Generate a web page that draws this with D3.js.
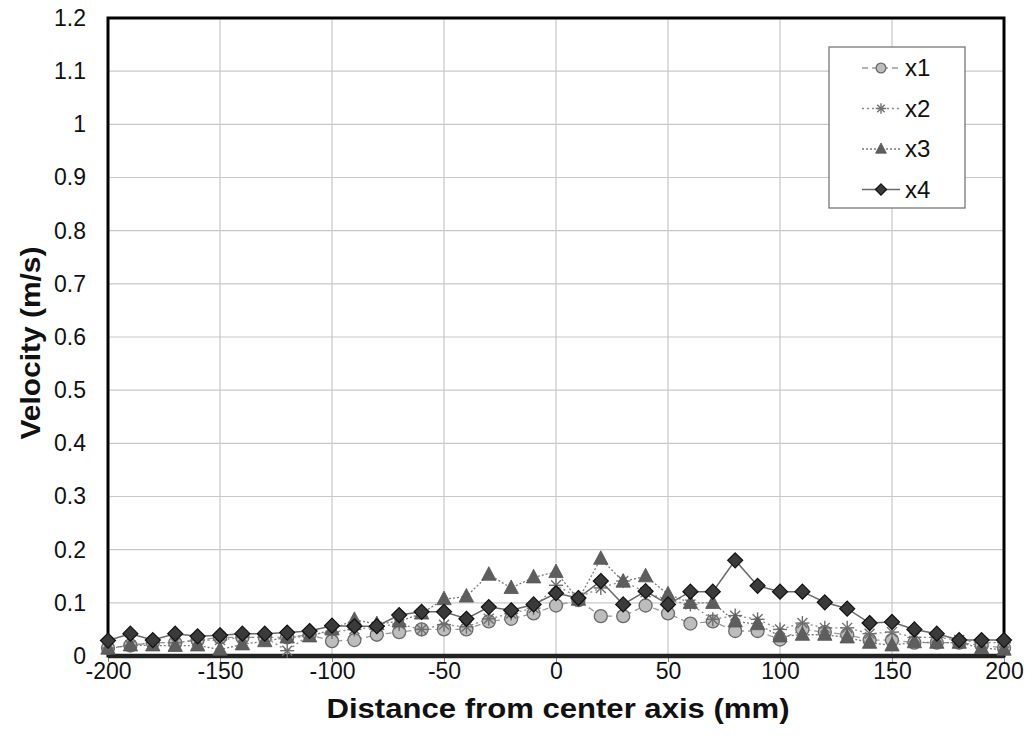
<!DOCTYPE html>
<html>
<head>
<meta charset="utf-8">
<script src="https://cdn.jsdelivr.net/npm/d3@7/dist/d3.min.js"></script>
<style>
  body { margin: 0; background: #fff; }
  text { font-family: "Liberation Sans", Arial, sans-serif; }
</style>
</head>
<body>
<svg id="chart" width="1032" height="748"></svg>
<script>
// Data
const distances = d3.range(-200, 201, 10);
const x1 = [0.015,0.02,0.025,0.025,0.03,0.035,0.035,0.035,0.035,0.04,0.028,0.03,0.04,0.045,0.05,0.05,0.05,0.065,0.07,0.08,0.095,0.105,0.075,0.075,0.095,0.08,0.061,0.065,0.047,0.047,0.031,0.05,0.045,0.04,0.03,0.03,0.025,0.025,0.025,0.02,0.015];
const x2 = [0.015,0.02,0.025,0.025,0.03,0.03,0.035,0.035,0.01,0.04,0.045,0.05,0.055,0.06,0.05,0.059,0.055,0.07,0.08,0.09,0.133,0.11,0.128,0.141,0.12,0.105,0.097,0.069,0.076,0.069,0.05,0.062,0.053,0.053,0.042,0.045,0.035,0.035,0.03,0.025,0.025];
const x3 = [0.014,0.02,0.02,0.019,0.02,0.012,0.022,0.028,0.035,0.037,0.05,0.068,0.06,0.065,0.08,0.107,0.112,0.153,0.128,0.148,0.158,0.106,0.183,0.14,0.15,0.116,0.1,0.1,0.065,0.06,0.037,0.04,0.04,0.035,0.025,0.02,0.026,0.025,0.025,0.015,0.012];
const x4 = [0.029,0.042,0.03,0.042,0.037,0.039,0.042,0.042,0.044,0.047,0.057,0.056,0.056,0.077,0.083,0.083,0.07,0.092,0.086,0.097,0.118,0.109,0.141,0.097,0.122,0.097,0.121,0.121,0.18,0.132,0.121,0.121,0.101,0.089,0.062,0.064,0.05,0.042,0.03,0.03,0.03];
const seriesNames = ["x1","x2","x3","x4"];
const xTicks = d3.range(-200, 201, 50);
const yTicks = d3.range(0, 13).map(i => +(i / 10).toFixed(1));

const svg = d3.select("#chart");
const L = 108, R = 1004, T = 18, B = 656;
const x = d3.scaleLinear().domain([-200, 200]).range([L, R]);
const y = d3.scaleLinear().domain([0, 1.2]).range([B, T]);

// gridlines
svg.append("g").selectAll("line.h").data(yTicks.slice(1)).join("line")
  .attr("x1", L).attr("x2", R).attr("y1", d => y(d)).attr("y2", d => y(d))
  .attr("stroke", "#c8c8c8").attr("stroke-width", 1.2);
svg.append("g").selectAll("line.v").data(xTicks.slice(1, -1)).join("line")
  .attr("x1", d => x(d)).attr("x2", d => x(d)).attr("y1", T).attr("y2", B)
  .attr("stroke", "#c8c8c8").attr("stroke-width", 1.2);

// axes
const xAxis = d3.axisBottom(x).tickValues(xTicks).tickSize(6).tickPadding(1).tickFormat(d3.format("d"));
const gx = svg.append("g").attr("transform", `translate(0,${B})`).call(xAxis);
gx.select(".domain").remove();
gx.selectAll("line").attr("stroke", "#888");
gx.selectAll("text").attr("font-size", 23).attr("fill", "#111").text(d => d < 0 ? "-" + Math.abs(d) : d);

const yAxis = d3.axisLeft(y).tickValues(yTicks).tickSize(0).tickPadding(22).tickFormat(d => d === 0 ? "0" : d3.format("")(d));
const gy = svg.append("g").attr("transform", `translate(${L},0)`).call(yAxis);
gy.select(".domain").remove();
gy.selectAll("text").attr("font-size", 23).attr("fill", "#111");

// frame
svg.append("rect").attr("x", L).attr("y", T).attr("width", R - L).attr("height", B - T)
  .attr("fill", "none").attr("stroke", "#000").attr("stroke-width", 3);
svg.append("line").attr("x1", L).attr("x2", R).attr("y1", B).attr("y2", B)
  .attr("stroke", "#222").attr("stroke-width", 4.5);

// titles
svg.append("text").attr("x", 558).attr("y", 718).attr("text-anchor", "middle")
  .attr("font-size", 27).attr("font-weight", "bold").attr("fill", "#111")
  .attr("textLength", 463).attr("lengthAdjust", "spacingAndGlyphs")
  .text("Distance from center axis (mm)");
svg.append("text").attr("transform", `translate(40,343) rotate(-90)`).attr("text-anchor", "middle")
  .attr("font-size", 27).attr("font-weight", "bold").attr("fill", "#111")
  .attr("textLength", 193).attr("lengthAdjust", "spacingAndGlyphs")
  .text("Velocity (m/s)");

// series
const styles = {
  x1: { line: "#9a9a9a", dash: "6,4", width: 1.3, sym: "circle" },
  x2: { line: "#8a8a8a", dash: "2,3", width: 1.3, sym: "star" },
  x3: { line: "#7a7a7a", dash: "2,2", width: 1.3, sym: "triangle" },
  x4: { line: "#6a6a6a", dash: null, width: 1.5, sym: "diamond" }
};
const data = { x1, x2, x3, x4 };
const line = d3.line().x((d, i) => x(distances[i])).y(d => y(d));

function drawMarker(g, type, cx, cy, scale) {
  const s = scale || 1;
  if (type === "circle") {
    g.append("circle").attr("cx", cx).attr("cy", cy).attr("r", 6.5 * s)
      .attr("fill", "#bdbdbd").attr("stroke", "#6a6a6a").attr("stroke-width", 1.3);
  } else if (type === "star") {
    const r = 7 * s;
    for (let k = 0; k < 4; k++) {
      const a = k * Math.PI / 4;
      g.append("line").attr("x1", cx - r * Math.cos(a)).attr("y1", cy - r * Math.sin(a))
        .attr("x2", cx + r * Math.cos(a)).attr("y2", cy + r * Math.sin(a))
        .attr("stroke", "#6e6e6e").attr("stroke-width", 1.4);
    }
  } else if (type === "triangle") {
    const r = 8 * s;
    g.append("path").attr("d", `M${cx},${cy - r}L${cx + r * 0.9},${cy + r * 0.7}L${cx - r * 0.9},${cy + r * 0.7}Z`)
      .attr("fill", "#5e5e5e").attr("stroke", "#555").attr("stroke-width", 0.8);
  } else {
    const r = 7.5 * s;
    g.append("path").attr("d", `M${cx},${cy - r}L${cx + r},${cy}L${cx},${cy + r}L${cx - r},${cy}Z`)
      .attr("fill", "#3a3a3a").attr("stroke", "#111").attr("stroke-width", 1.2);
  }
}

seriesNames.forEach(name => {
  const st = styles[name];
  const g = svg.append("g");
  g.append("path").datum(data[name]).attr("d", line).attr("fill", "none")
    .attr("stroke", st.line).attr("stroke-width", st.width).attr("stroke-dasharray", st.dash);
  data[name].forEach((v, i) => drawMarker(g, st.sym, x(distances[i]), y(v), 1));
});

// legend
const lg = svg.append("g");
lg.append("rect").attr("x", 829).attr("y", 47).attr("width", 136).attr("height", 161)
  .attr("fill", "#fff").attr("stroke", "#777").attr("stroke-width", 1.3);
seriesNames.forEach((name, i) => {
  const st = styles[name];
  const ly = 68 + i * 40.5;
  lg.append("line").attr("x1", 862).attr("x2", 900).attr("y1", ly).attr("y2", ly)
    .attr("stroke", st.line).attr("stroke-width", st.width).attr("stroke-dasharray", st.dash);
  drawMarker(lg, st.sym, 881, ly, 0.75);
  lg.append("text").attr("x", 905).attr("y", ly + 8).attr("font-size", 24).attr("fill", "#111").text(name);
});
</script>
</body>
</html>
